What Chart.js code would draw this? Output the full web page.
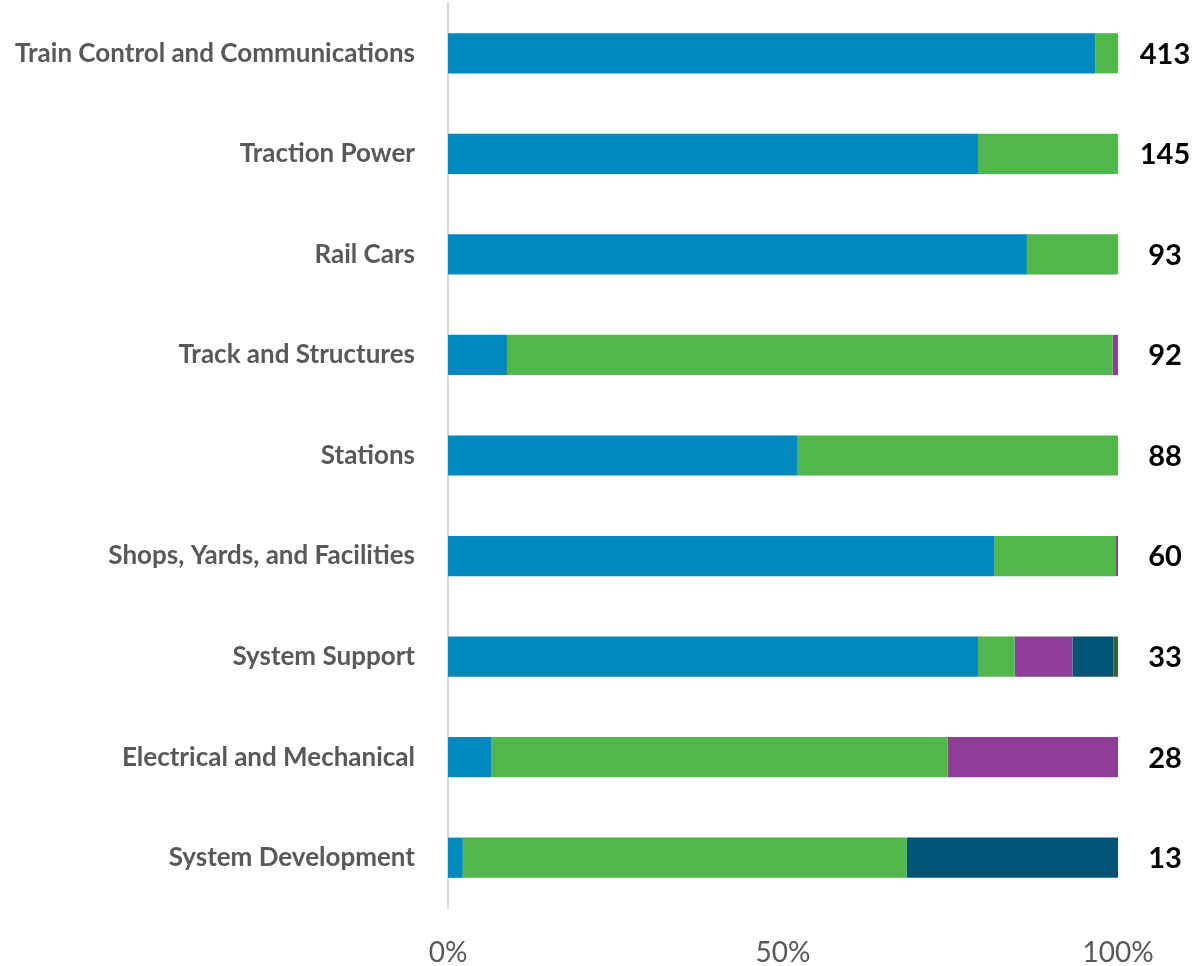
<!DOCTYPE html>
<html>
<head>
<meta charset="utf-8">
<script src="https://cdn.jsdelivr.net/npm/chart.js@4/dist/chart.umd.min.js"></script>
<style>
  html, body { margin: 0; padding: 0; background: #ffffff; }
  #wrap { width: 1204px; height: 966px; position: relative; }
</style>
</head>
<body>
<div id="wrap"><canvas id="c" width="1204" height="966"></canvas></div>
<script>
// Categories (top to bottom)
const categories = [
  "Train Control and Communications",
  "Traction Power",
  "Rail Cars",
  "Track and Structures",
  "Stations",
  "Shops, Yards, and Facilities",
  "System Support",
  "Electrical and Mechanical",
  "System Development"
];
// Totals shown at the right of each bar
const totals = [413, 145, 93, 92, 88, 60, 33, 28, 13];

// Share of each bar (percent)
const seriesBlue      = [96.6, 79.1, 86.4, 8.8, 52.2, 81.5, 79.1, 6.5, 2.2];
const seriesGreen     = [3.4, 20.9, 13.6, 90.4, 47.8, 18.2, 5.5, 68.1, 66.3];
const seriesPurple    = [0, 0, 0, 0.8, 0, 0.3, 8.6, 25.4, 0];
const seriesDarkTeal  = [0, 0, 0, 0, 0, 0, 6.1, 0, 31.5];
const seriesDarkGreen = [0, 0, 0, 0, 0, 0, 0.7, 0, 0];

const xTicks = [0, 50, 100];

const totalsPlugin = {
  id: 'totals',
  afterDatasetsDraw(chart) {
    const ctx = chart.ctx;
    const y = chart.scales.y;
    ctx.save();
    ctx.font = 'bold 29px Lato, "Open Sans", sans-serif';
    ctx.fillStyle = '#000000';
    ctx.textAlign = 'center';
    ctx.textBaseline = 'middle';
    totals.forEach((t, i) => {
      ctx.fillText(String(t), 1165, y.getPixelForValue(i) + 1);
    });
    ctx.restore();
  }
};

new Chart(document.getElementById('c'), {
  type: 'bar',
  data: {
    labels: categories,
    datasets: [
      { label: 'Series 1', data: seriesBlue, backgroundColor: '#0089BF' },
      { label: 'Series 2', data: seriesGreen, backgroundColor: '#52B74B' },
      { label: 'Series 3', data: seriesPurple, backgroundColor: '#8E3E96' },
      { label: 'Series 4', data: seriesDarkTeal, backgroundColor: '#005374' },
      { label: 'Series 5', data: seriesDarkGreen, backgroundColor: '#2E6B30' }
    ]
  },
  options: {
    indexAxis: 'y',
    responsive: false,
    animation: false,
    devicePixelRatio: 1,
    layout: { padding: { left: 0, right: 86, top: 3, bottom: 0 } },
    datasets: { bar: { barPercentage: 0.4, categoryPercentage: 1.0, borderWidth: 0 } },
    plugins: {
      legend: { display: false },
      tooltip: { enabled: false }
    },
    scales: {
      x: {
        stacked: true,
        min: 0,
        max: 100,
        afterBuildTicks(scale) { scale.ticks = xTicks.map(v => ({ value: v })); },
        afterFit(scale) { scale.height = 58; scale.paddingLeft = 0; scale.paddingRight = 0; },
        grid: { display: false },
        border: { display: false },
        ticks: {
          callback: v => v + '%',
          color: '#595959',
          padding: 20,
          maxRotation: 0,
          font: { family: 'Lato, "Open Sans", sans-serif', size: 28 }
        }
      },
      y: {
        stacked: true,
        afterFit(scale) { scale.width = 448; scale.paddingTop = 0; scale.paddingBottom = 0; },
        grid: { display: false, drawTicks: false },
        border: { display: true, color: '#d9d9d9', width: 2 },
        ticks: {
          color: '#595959',
          padding: 33,
          autoSkip: false,
          font: { family: 'Lato, "Open Sans", sans-serif', size: 26, weight: 'bold' }
        }
      }
    }
  },
  plugins: [totalsPlugin]
});
</script>
</body>
</html>
